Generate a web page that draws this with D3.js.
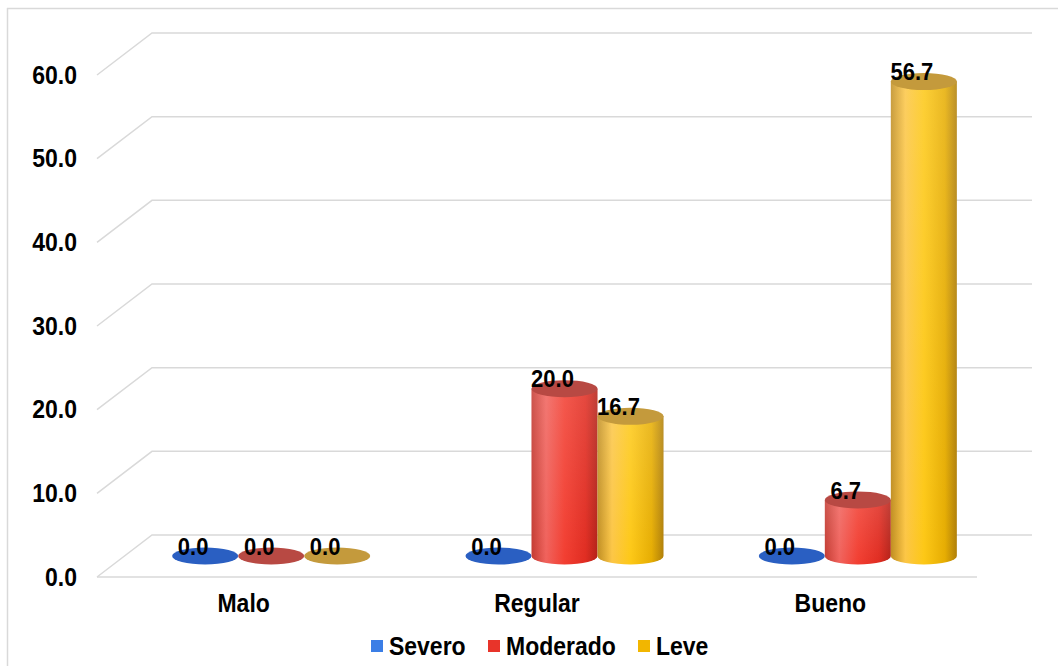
<!DOCTYPE html>
<html>
<head>
<meta charset="utf-8">
<script src="https://cdn.jsdelivr.net/npm/d3@7/dist/d3.min.js"></script>
<style>
  html, body { margin: 0; padding: 0; background: #ffffff; }
  svg { display: block; }
  text {
    font-family: "Liberation Sans", Arial, Helvetica, sans-serif; font-weight: bold; fill: #000;
    transform-box: fill-box; transform-origin: center; transform: scaleY(1.1);
  }
</style>
</head>
<body>
<script>
// Chart data
const categories = ["Malo", "Regular", "Bueno"];
const seriesNames = ["Severo", "Moderado", "Leve"];
const severo   = [0.0, 0.0, 0.0];
const moderado = [0.0, 20.0, 6.7];
const leve     = [0.0, 16.7, 56.7];
const yTicks   = [0, 10, 20, 30, 40, 50, 60];

const seriesValues = [severo, moderado, leve];

const W = 1058, H = 666;
const svg = d3.select("body").append("svg").attr("width", W).attr("height", H);

// Front plane of the 3-D box and its depth offset
const plotLeft = 97, plotRight = 977, plotBottom = 577, plotTop = 75;
const depthX = 55, depthY = -42;

const x0 = d3.scaleBand().domain(categories).range([plotLeft, plotRight]).padding(0);
const x1 = d3.scaleBand().domain(seriesNames).range([0, x0.bandwidth()])
  .paddingInner(0).paddingOuter(0.722);
const y = d3.scaleLinear().domain([0, 60]).range([plotBottom, plotTop]);

// Colours per series
const palette = {
  Severo:   { top: "#2a5fc2", stops: ["#1f4fa8", "#4a80e0", "#2f66cc", "#2456b4", "#1a4392"], key: "#3b7ee6" },
  Moderado: { top: "#b84943", stops: ["#c43a31", "#f0625c", "#f23e31", "#e02c21", "#b42118"], key: "#e8342a" },
  Leve:     { top: "#c49a3c", stops: ["#c08e22", "#fcc646", "#fdc816", "#e6ad02", "#b07f08"], key: "#f2b600" }
};

// Outer frame
svg.append("line").attr("x1", 7).attr("x2", W).attr("y1", 8.5).attr("y2", 8.5)
  .attr("stroke", "#d9d9d9").attr("stroke-width", 1.5);
svg.append("line").attr("x1", 7.5).attr("x2", 7.5).attr("y1", 8).attr("y2", H)
  .attr("stroke", "#d9d9d9").attr("stroke-width", 1.5);

// Gradients for cylinder bodies
const defs = svg.append("defs");
seriesNames.forEach((s, i) => {
  const g = defs.append("linearGradient").attr("id", "body" + i)
    .attr("x1", "0%").attr("x2", "100%").attr("y1", "0%").attr("y2", "0%");
  const offs = [0, 0.22, 0.5, 0.82, 1];
  palette[s].stops.forEach((c, k) => g.append("stop").attr("offset", offs[k]).attr("stop-color", c));
});
const shine = defs.append("linearGradient").attr("id", "shine")
  .attr("x1", "0%").attr("x2", "0%").attr("y1", "0%").attr("y2", "100%");
shine.append("stop").attr("offset", 0).attr("stop-color", "#ffffff").attr("stop-opacity", 0.14);
shine.append("stop").attr("offset", 1).attr("stop-color", "#ffffff").attr("stop-opacity", 0);

// Gridlines: side wall diagonal + back wall horizontal
const grid = svg.append("g").attr("stroke", "#d9d9d9").attr("stroke-width", 1.5).attr("fill", "none");
yTicks.forEach(t => {
  const yf = y(t);
  grid.append("path")
    .attr("d", `M${plotLeft},${yf} L${plotLeft + depthX},${yf + depthY} L${plotRight + depthX},${yf + depthY}`);
});
// Floor front edge
grid.append("line").attr("x1", plotLeft).attr("x2", plotRight).attr("y1", y(0)).attr("y2", y(0));

// Y axis labels
const yAxis = d3.axisLeft(y).tickValues(yTicks).tickFormat(d3.format(".1f")).tickSize(0).tickPadding(20);
const ya = svg.append("g").attr("transform", `translate(${plotLeft},0)`).call(yAxis);
ya.select(".domain").remove();
ya.selectAll("text").style("font-size", "23px").style("font-weight", "bold")
  .style("font-family", "'Liberation Sans', Arial, sans-serif").attr("fill", "#000");

// Category labels
svg.append("g").selectAll("text").data(categories).join("text")
  .attr("x", d => x0(d) + x0.bandwidth() / 2)
  .attr("y", 611)
  .attr("text-anchor", "middle")
  .style("font-size", "23px")
  .text(d => d);

// Cylinders, placed half-way into the depth
const rx = x1.bandwidth() / 2, ry = 8.5;
const barData = [];
categories.forEach((c, ci) => {
  seriesNames.forEach((s, si) => {
    barData.push({ cat: c, series: s, si, value: seriesValues[si][ci] });
  });
});

const bars = svg.append("g").selectAll("g").data(barData).join("g");
bars.each(function(d) {
  const g = d3.select(this);
  const cx = x0(d.cat) + x1(d.series) + rx + depthX / 2;
  const yb = y(0) + depthY / 2;
  const yt = y(d.value) + depthY / 2;
  if (yb - yt > 0.5) {
    const p = `M${cx - rx},${yt} L${cx - rx},${yb} A${rx},${ry} 0 0 0 ${cx + rx},${yb} L${cx + rx},${yt} Z`;
    g.append("path").attr("d", p).attr("fill", `url(#body${d.si})`);
    g.append("path").attr("d", p).attr("fill", "url(#shine)");
  }
  g.append("ellipse").attr("cx", cx).attr("cy", yt).attr("rx", rx).attr("ry", ry)
    .attr("fill", palette[d.series].top);
  d.cx = cx; d.yt = yt;
});

// Value labels
svg.append("g").selectAll("text").data(barData).join("text")
  .attr("x", d => d.cx - 12)
  .attr("y", d => d.yt - 2)
  .attr("text-anchor", "middle")
  .style("font-size", "22px")
  .text(d => d3.format(".1f")(d.value));

// Legend
const legendItems = [
  { name: "Severo", x: 371 },
  { name: "Moderado", x: 488 },
  { name: "Leve", x: 638 }
];
const lg = svg.append("g").selectAll("g").data(legendItems).join("g")
  .attr("transform", d => `translate(${d.x},0)`);
lg.append("rect").attr("x", 0).attr("y", 640).attr("width", 12).attr("height", 12)
  .attr("fill", d => palette[d.name].key);
lg.append("text").attr("x", 18).attr("y", 654).style("font-size", "23px").text(d => d.name);
</script>
</body>
</html>
